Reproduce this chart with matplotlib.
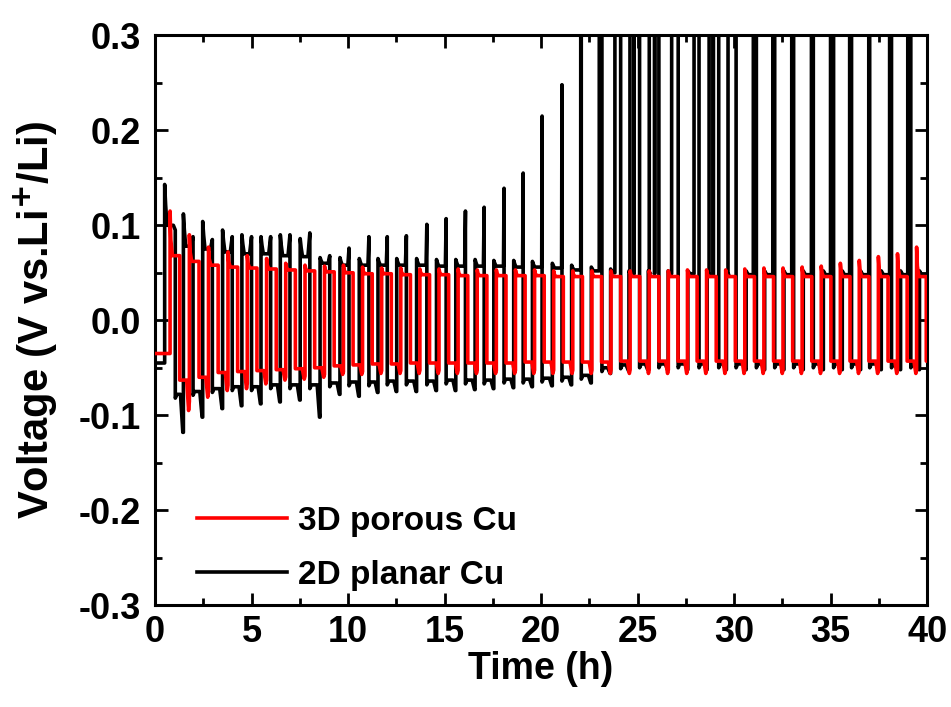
import matplotlib
matplotlib.use("Agg")
import matplotlib.pyplot as plt
from matplotlib.ticker import MultipleLocator

# ---- values (one entry per cycle) ----
# 2D planar Cu (black)
black_start = -0.045
black_rise = [0.50, 1.47, 2.47, 3.50, 4.50, 5.49, 6.49, 7.52, 8.55, 9.58,
              10.58, 11.55, 12.52, 13.55, 14.58, 15.58, 16.58, 17.55, 18.58, 19.55,
              20.58, 21.58, 22.60, 23.60, 24.55, 25.55, 26.58, 27.60, 28.60, 29.60,
              30.62, 31.58, 32.58, 33.58, 34.62, 35.60, 36.55, 37.62, 38.62, 39.60]
black_drop = [1.05, 1.97, 2.97, 4.00, 5.00, 5.99, 6.99, 8.02, 9.05, 10.05,
              11.08, 12.03, 13.02, 14.08, 15.08, 16.08, 17.05, 18.08, 19.07, 20.05,
              21.08, 22.08, 23.15, 24.12, 25.10, 26.10, 27.10, 28.18, 29.20, 30.10,
              31.15, 32.10, 33.08, 34.10, 35.15, 36.08, 37.02, 38.15, 39.15, 40.10]
black_top_start = [0.143, 0.112, 0.104, 0.095, 0.090, 0.088, 0.090, 0.086, 0.066, 0.066,
                   0.065, 0.065, 0.065, 0.065, 0.064, 0.064, 0.064, 0.063, 0.063, 0.062,
                   0.060, 0.058, 0.056, 0.054, 0.052, 0.052, 0.052, 0.052, 0.052, 0.052,
                   0.052, 0.052, 0.052, 0.052, 0.052, 0.052, 0.052, 0.052, 0.052, 0.052]
black_top_mid = [0.100, 0.078, 0.075, 0.072, 0.070, 0.070, 0.068, 0.067, 0.060, 0.058,
                 0.058, 0.058, 0.058, 0.058, 0.057, 0.057, 0.057, 0.057, 0.056, 0.056,
                 0.055, 0.053, 0.052, 0.050, 0.049, 0.049, 0.049, 0.049, 0.048, 0.048,
                 0.048, 0.048, 0.048, 0.048, 0.048, 0.048, 0.048, 0.048, 0.048, 0.048]
# end-of-charge peak (values above 0.3 run off the top of the axes)
black_peak = [0.095, 0.088, 0.085, 0.088, 0.088, 0.088, 0.090, 0.092, 0.068, 0.076,
              0.088, 0.088, 0.089, 0.101, 0.107, 0.115, 0.119, 0.139, 0.155, 0.215,
              0.248, 0.600, 0.600, 0.600, 0.600, 0.600, 0.600, 0.600, 0.600, 0.600,
              0.600, 0.600, 0.600, 0.600, 0.600, 0.600, 0.600, 0.600, 0.600, 0.600]
black_peak_len = [0.10, 0.10, 0.10, 0.10, 0.10, 0.10, 0.10, 0.10, 0.08, 0.06,
                  0.05, 0.05, 0.05, 0.04, 0.04, 0.04, 0.04, 0.03, 0.03, 0.02,
                  0.02, 0.03, 0.14, 0.30, 0.50, 0.50, 0.34, 0.26, 0.50, 0.42,
                  0.16, 0.10, 0.10, 0.10, 0.16, 0.10, 0.05, 0.10, 0.16, 0.05]
black_gap = [None, None, None, None, None, None, None, None, None, None,
             None, None, None, None, None, None, None, None, None, None,
             None, None, None, None, 24.82, 25.88, None, None, 28.92, None,
             None, None, None, None, None, None, None, None, None, None]
black_bot_mid = [-0.078, -0.075, -0.072, -0.070, -0.070, -0.068, -0.068, -0.068, -0.066, -0.065,
                 -0.065, -0.064, -0.064, -0.064, -0.063, -0.063, -0.063, -0.062, -0.062, -0.061,
                 -0.060, -0.058, -0.050, -0.047, -0.046, -0.046, -0.046, -0.046, -0.046, -0.046,
                 -0.046, -0.046, -0.046, -0.046, -0.046, -0.046, -0.046, -0.046, -0.046, -0.046]
black_bot_dip = [-0.118, -0.102, -0.093, -0.090, -0.088, -0.086, -0.084, -0.102, -0.078, -0.080,
                 -0.076, -0.075, -0.075, -0.074, -0.074, -0.073, -0.072, -0.071, -0.070, -0.069,
                 -0.068, -0.066, -0.056, -0.053, -0.052, -0.052, -0.052, -0.052, -0.052, -0.052,
                 -0.052, -0.052, -0.052, -0.052, -0.052, -0.052, -0.052, -0.052, -0.052, -0.052]

# 3D porous Cu (red)
red_start = -0.035
red_rise = [0.78, 1.78, 2.77, 3.78, 4.78, 5.78, 6.77, 7.77, 8.78, 9.76,
            10.75, 11.74, 12.73, 13.72, 14.71, 15.70, 16.69, 17.68, 18.67, 19.66,
            20.65, 21.64, 22.63, 23.62, 24.61, 25.60, 26.59, 27.58, 28.57, 29.56,
            30.55, 31.54, 32.53, 33.52, 34.51, 35.50, 36.48, 37.47, 38.46, 39.45]
red_drop = [1.28, 2.28, 3.27, 4.28, 5.28, 6.28, 7.27, 8.27, 9.28, 10.26,
            11.25, 12.24, 13.23, 14.22, 15.21, 16.20, 17.19, 18.18, 19.17, 20.16,
            21.15, 22.14, 23.13, 24.12, 25.11, 26.10, 27.09, 28.08, 29.07, 30.06,
            31.05, 32.04, 33.03, 34.02, 35.01, 36.00, 36.98, 37.97, 38.96, 39.95]
red_spike = [0.115, 0.090, 0.077, 0.072, 0.068, 0.065, 0.060, 0.058, 0.057, 0.058,
             0.056, 0.055, 0.055, 0.054, 0.054, 0.054, 0.053, 0.053, 0.053, 0.053,
             0.052, 0.052, 0.052, 0.052, 0.052, 0.052, 0.052, 0.053, 0.053, 0.053,
             0.054, 0.055, 0.055, 0.056, 0.057, 0.060, 0.063, 0.067, 0.070, 0.077]
red_top_mid = [0.068, 0.062, 0.058, 0.056, 0.055, 0.054, 0.053, 0.052, 0.051, 0.050,
               0.049, 0.049, 0.048, 0.048, 0.048, 0.047, 0.047, 0.047, 0.047, 0.047,
               0.046, 0.046, 0.046, 0.046, 0.046, 0.046, 0.046, 0.046, 0.046, 0.046,
               0.046, 0.046, 0.046, 0.046, 0.046, 0.046, 0.046, 0.046, 0.046, 0.046]
red_bot_mid = [-0.063, -0.060, -0.055, -0.054, -0.053, -0.052, -0.051, -0.050, -0.048, -0.047,
               -0.046, -0.046, -0.045, -0.045, -0.045, -0.045, -0.045, -0.045, -0.044, -0.044,
               -0.044, -0.044, -0.044, -0.043, -0.043, -0.043, -0.043, -0.043, -0.043, -0.043,
               -0.043, -0.043, -0.043, -0.043, -0.043, -0.043, -0.043, -0.043, -0.043, -0.043]
red_bot_dip = [-0.095, -0.081, -0.074, -0.072, -0.067, -0.063, -0.062, -0.060, -0.057, -0.057,
               -0.056, -0.056, -0.056, -0.056, -0.056, -0.056, -0.056, -0.056, -0.056, -0.056,
               -0.056, -0.056, -0.056, -0.056, -0.056, -0.056, -0.056, -0.056, -0.056, -0.056,
               -0.056, -0.056, -0.056, -0.056, -0.056, -0.056, -0.056, -0.056, -0.056, -0.056]

x_ticks = [0, 5, 10, 15, 20, 25, 30, 35, 40]
y_ticks = [-0.3, -0.2, -0.1, 0.0, 0.1, 0.2, 0.3]


def black_trace():
    t, v = [0.0], [black_start]
    n = len(black_rise)
    for k in range(n):
        r, d = black_rise[k], black_drop[k]
        t += [r, r, r + 0.05, r + 0.12]
        v += [v[-1], black_top_start[k], (black_top_start[k] + black_top_mid[k]) / 2, black_top_mid[k]]
        on = d - black_peak_len[k]
        if black_peak[k] > 0.3:
            t += [on, on + 0.005]
            v += [black_top_mid[k], black_peak[k]]
            g = black_gap[k]
            if g is not None:
                t += [g - 0.005, g, g + 0.005]
                v += [black_peak[k], black_top_mid[k], black_peak[k]]
            t += [d]
            v += [black_peak[k]]
        else:
            t += [on, d]
            v += [black_top_mid[k], black_peak[k]]
        nxt = black_rise[k + 1] if k + 1 < n else 41.0
        t += [d, d + 0.08, nxt - 0.15, nxt - 0.03]
        v += [black_bot_mid[k] - 0.004, black_bot_mid[k], black_bot_mid[k], black_bot_dip[k]]
    return t, v


def red_trace():
    t, v = [0.0], [red_start]
    n = len(red_rise)
    for k in range(n):
        r, d = red_rise[k], red_drop[k]
        t += [r, r, r + 0.04, r + 0.12, d]
        v += [v[-1], red_spike[k], red_top_mid[k] + 0.35 * (red_spike[k] - red_top_mid[k]),
              red_top_mid[k], red_top_mid[k]]
        nxt = red_rise[k + 1] if k + 1 < n else 41.0
        t += [d, nxt - 0.14, nxt - 0.04, nxt]
        v += [red_bot_mid[k], red_bot_mid[k], red_bot_dip[k],
              red_bot_dip[k] + 0.3 * (red_bot_mid[k] - red_bot_dip[k])]
    return t, v


plt.rcParams["font.family"] = ["Liberation Sans", "DejaVu Sans"]
plt.rcParams["font.weight"] = "bold"

fig = plt.figure(figsize=(9.51, 7.07), dpi=100)
ax = fig.add_axes([0.163, 0.144, 0.812, 0.806])

bt, bv = black_trace()
rt, rv = red_trace()
ax.plot(bt, bv, color="black", lw=2.6, label="2D planar Cu", zorder=2)
ax.plot(rt, rv, color="red", lw=2.6, label="3D porous Cu", zorder=3)

ax.set_xlim(0, 40)
ax.set_ylim(-0.3, 0.3)
ax.set_xticks(x_ticks)
ax.set_yticks(y_ticks)
ax.set_yticklabels([f"{y:.1f}" for y in y_ticks])
ax.xaxis.set_minor_locator(MultipleLocator(2.5))
ax.yaxis.set_minor_locator(MultipleLocator(0.05))
ax.tick_params(which="both", direction="in", top=True, right=True, width=2)
ax.tick_params(which="major", length=9, labelsize=26)
ax.tick_params(axis="x", which="major", pad=7)
ax.tick_params(axis="y", which="major", pad=10)
ax.tick_params(which="minor", length=5)
for s in ax.spines.values():
    s.set_linewidth(2.2)

ax.set_xlabel("Time (h)", fontsize=27, fontweight="bold", labelpad=1)
ax.set_ylabel("Voltage (V vs.Li$^{\\mathbf{+}}$/Li)", fontsize=30, fontweight="bold", labelpad=14)

h, l = ax.get_legend_handles_labels()
ax.legend(h[::-1], l[::-1], loc="lower left", frameon=False, fontsize=24,
          handlelength=2.7, handletextpad=0.35, labelspacing=0.7,
          bbox_to_anchor=(0.015, -0.028))

fig.savefig("out.png", dpi=100)
